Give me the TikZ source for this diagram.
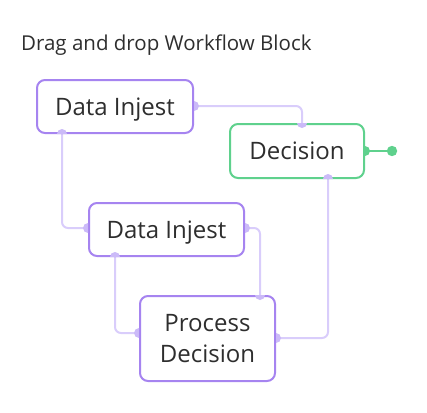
\documentclass[tikz,border=0pt]{standalone}
\usepackage{fontspec}
\setmainfont{Open Sans}
\definecolor{pborder}{HTML}{A684F0}
\definecolor{pline}{HTML}{D9CDFB}
\definecolor{pdot}{HTML}{CBBAF8}
\definecolor{gborder}{HTML}{5FD18D}
\definecolor{txt}{HTML}{2E2E2E}
\begin{document}
\begin{tikzpicture}[x=1pt,y=-1pt,
  box/.style={draw=pborder, line width=2pt, rounded corners=8pt, fill=white, inner sep=0pt, anchor=north west, text=txt, font=\fontsize{24}{28}\selectfont, align=center},
  onebox/.style={box, text depth=0pt},
  gbox/.style={onebox, draw=gborder},
  conn/.style={draw=pline, line width=2pt, rounded corners=6pt},
]
\useasboundingbox (0,0) rectangle (427,412);
\node[anchor=west, text=txt, font=\fontsize{20.5}{24}\selectfont, inner sep=0pt] (title) at (21,45) {Drag and drop Workflow Block};

\coordinate (n1r) at (192,106);
\coordinate (decT) at (302,123);
\coordinate (n1b) at (62,132);
\coordinate (n2l) at (88,228);
\coordinate (n2r) at (243,228);
\coordinate (prT) at (260,295);
\coordinate (n2b) at (115,255);
\coordinate (prL) at (139,333);
\coordinate (decB) at (328,177);
\coordinate (prR) at (274,338);
\coordinate (decR) at (364,151);
\coordinate (gend) at (392,151);

\draw[conn] (n1r) -| (decT);
\draw[conn] (n1b) |- (n2l);
\draw[conn] (n2r) -| (prT);
\draw[conn] (n2b) |- (prL);
\draw[conn] (decB) |- (prR);
\draw[draw=gborder, line width=2pt] (decR) -- (gend);
\fill[gborder] (gend) circle (5.2);

\node[onebox, minimum width=156pt, minimum height=53pt] (n1) at (36,79) {Data Injest};
\node[gbox, minimum width=134pt, minimum height=54pt] (dec) at (229,123) {Decision};
\node[onebox, minimum width=155pt, minimum height=53pt] (n2) at (88,202) {Data Injest};
\node[box, minimum width=135pt, minimum height=85pt, font=\fontsize{24}{31.5}\selectfont] (pr) at (139,295) {Process\\Decision};

\fill[pdot] (n1.east |- n1r) ++(0,-5) arc[start angle=-90,end angle=90,radius=5] -- cycle;
\fill[pdot] (n1.south -| n1b) ++(-5,0) arc[start angle=180,end angle=360,radius=5] -- cycle;
\fill[pdot] (dec.north -| decT) ++(-5,0) arc[start angle=180,end angle=0,radius=5] -- cycle;
\fill[pdot] (dec.south -| decB) ++(-5,0) arc[start angle=180,end angle=360,radius=5] -- cycle;
\fill[gborder] (dec.east |- decR) ++(0,-5) arc[start angle=-90,end angle=90,radius=5] -- cycle;
\fill[pdot] (n2.west |- n2l) ++(0,-5) arc[start angle=270,end angle=90,radius=5] -- cycle;
\fill[pdot] (n2.east |- n2r) ++(0,-5) arc[start angle=-90,end angle=90,radius=5] -- cycle;
\fill[pdot] (n2.south -| n2b) ++(-5,0) arc[start angle=180,end angle=360,radius=5] -- cycle;
\fill[pdot] (pr.north -| prT) ++(-5,0) arc[start angle=180,end angle=0,radius=5] -- cycle;
\fill[pdot] (pr.west |- prL) ++(0,-5) arc[start angle=270,end angle=90,radius=5] -- cycle;
\fill[pdot] (pr.east |- prR) ++(0,-5) arc[start angle=-90,end angle=90,radius=5] -- cycle;
\end{tikzpicture}
\end{document}
